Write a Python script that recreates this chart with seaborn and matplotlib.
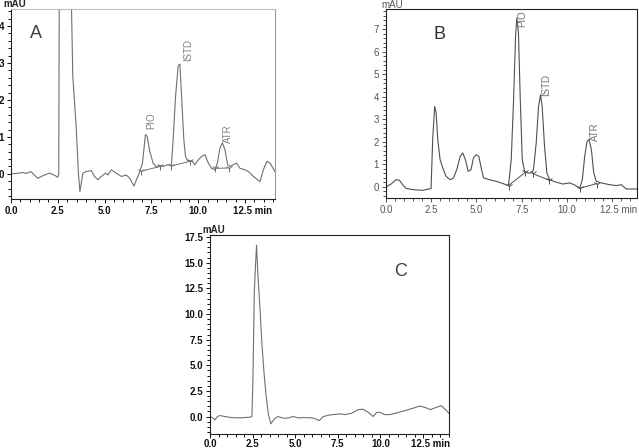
import numpy as np
import pandas as pd
import matplotlib
matplotlib.use("Agg")
import matplotlib.pyplot as plt
import matplotlib.transforms as mtransforms
from matplotlib.ticker import MultipleLocator
import seaborn as sns

# Chromatogram A (time in min, signal in mAU)
a_time = [0.0, 0.45, 0.6, 0.8, 1.07, 1.25, 1.43, 1.7, 2.05, 2.3, 2.5, 2.55, 2.6, 2.85, 3.1,
          3.3, 3.48, 3.6, 3.68, 3.84, 4.0, 4.29, 4.46, 4.64, 4.82, 5.05, 5.18, 5.36, 5.62,
          5.9, 6.16, 6.34, 6.57, 6.73, 6.88, 7.02, 7.18, 7.27, 7.41, 7.59, 7.77, 7.95, 8.12,
          8.35, 8.57, 8.66, 8.79, 8.93, 9.02, 9.11, 9.23, 9.32, 9.46, 9.64, 9.82, 10.0, 10.18,
          10.36, 10.54, 10.71, 10.89, 11.02, 11.16, 11.29, 11.43, 11.57, 11.7, 11.88, 12.05,
          12.23, 12.5, 12.68, 12.95, 13.3, 13.48, 13.66, 13.84, 14.1]
a_signal = [0.0, 0.02, 0.04, 0.01, 0.06, -0.03, -0.12, -0.05, 0.02, -0.03, -0.09, 0.0, 9.0, 14.0, 8.0,
            2.65, 1.28, 0.02, -0.48, 0.02, 0.06, 0.09, -0.07, -0.16, -0.07, 0.02, -0.03, 0.11, 0.02,
            -0.07, -0.03, -0.12, -0.33, -0.12, 0.06, 0.29, 1.06, 1.02, 0.61, 0.29, 0.18, 0.23, 0.2,
            0.24, 0.25, 0.93, 2.1, 2.93, 2.97, 2.1, 0.93, 0.47, 0.34, 0.36, 0.25, 0.38, 0.47,
            0.52, 0.29, 0.15, 0.11, 0.29, 0.7, 0.84, 0.65, 0.25, 0.2, 0.25, 0.29,
            0.15, 0.11, 0.06, -0.07, -0.21, 0.11, 0.34, 0.29, 0.06]
a_base_time = [6.95, 7.95, 8.55, 9.55, 10.9, 11.65]
a_base_signal = [0.07, 0.2, 0.21, 0.34, 0.15, 0.16]
a_base_peak = ["PIO", "PIO", "ISTD", "ISTD", "ATR", "ATR"]
a_peak_names = ["PIO", "ISTD", "ATR"]
a_peak_time = [7.5, 9.45, 11.6]
a_peak_label_y = [1.45, 3.35, 1.1]

# Chromatogram B
b_time = [0.0, 0.28, 0.55, 0.74, 0.92, 1.1, 1.48, 2.03, 2.49, 2.58, 2.69, 2.77, 2.86, 2.99,
          3.14, 3.32, 3.54, 3.73, 3.91, 4.1, 4.24, 4.39, 4.54, 4.7, 4.83, 4.98, 5.13, 5.26,
          5.39, 5.72, 6.09, 6.46, 6.77, 6.92, 7.05, 7.16, 7.23, 7.32, 7.42, 7.53, 7.66, 7.84,
          8.03, 8.15, 8.3, 8.43, 8.54, 8.63, 8.76, 8.89, 9.04, 9.41, 9.78, 10.15, 10.42, 10.7,
          10.85, 10.98, 11.11, 11.22, 11.35, 11.48, 11.62, 11.9, 12.36, 12.73, 13.0, 13.28, 13.87]
b_signal = [0.0, 0.13, 0.32, 0.3, 0.1, -0.06, -0.12, -0.15, -0.07, 2.1, 3.57, 3.28, 2.1, 1.21,
            0.84, 0.47, 0.32, 0.4, 0.77, 1.36, 1.51, 1.21, 0.69, 0.77, 1.29, 1.43, 1.36, 0.84,
            0.4, 0.32, 0.25, 0.15, 0.06, 1.21, 3.87, 6.68, 7.49, 6.82, 3.87, 1.21, 0.69, 0.62,
            0.62, 0.77, 1.95, 3.57, 4.09, 3.57, 1.8, 0.62, 0.32, 0.21, 0.13, 0.18, 0.09, -0.07,
            0.32, 1.36, 2.02, 2.1, 1.65, 0.62, 0.25, 0.18, 0.1, 0.06, 0.1, -0.09, -0.09]
b_base_time = [6.77, 7.7, 8.1, 9.0, 10.72, 11.65]
b_base_signal = [0.06, 0.65, 0.6, 0.3, -0.06, 0.15]
b_base_peak = ["PIO", "PIO", "ISTD", "ISTD", "ATR", "ATR"]
b_peak_names = ["PIO", "ISTD", "ATR"]
b_peak_time = [7.55, 8.85, 11.55]
b_peak_label_y = [7.45, 4.5, 2.45]

# Chromatogram C (blank)
c_time = [0.0, 0.16, 0.29, 0.43, 0.59, 0.88, 1.27, 1.76, 2.34, 2.46, 2.52, 2.6, 2.68, 2.73,
          2.81, 2.93, 3.05, 3.16, 3.28, 3.42, 3.57, 3.77, 4.0, 4.3, 4.59, 4.88, 5.18, 5.47,
          6.05, 6.41, 6.64, 7.03, 7.62, 7.91, 8.3, 8.69, 8.98, 9.28, 9.57, 9.77, 9.96, 10.25,
          10.55, 10.94, 11.43, 11.91, 12.3, 12.6, 12.93, 13.28, 13.57, 13.83, 14.02]
c_signal = [0.0, -0.13, -0.32, 0.0, 0.1, 0.0, -0.1, -0.13, -0.06, 0.0, 3.8, 12.2, 15.1, 16.7,
            13.8, 10.6, 7.0, 4.45, 2.2, 0.26, -0.71, -0.23, 0.0, -0.16, -0.13, 0.0, -0.13, -0.1,
            -0.13, -0.39, 0.0, 0.16, 0.26, 0.19, 0.32, 0.68, 0.71, 0.42, 0.0, 0.39, 0.42, 0.19,
            0.19, 0.35, 0.58, 0.81, 1.03, 0.9, 0.68, 0.9, 1.06, 0.65, 0.32]

sns.set_theme(style="white")
plt.rcParams["font.family"] = ["Liberation Sans", "DejaVu Sans"]

fig = plt.figure(figsize=(6.39, 4.48), dpi=100)
ax_a = fig.add_axes([11 / 639, 1 - 199 / 448, 264 / 639, 190 / 448])
ax_b = fig.add_axes([386 / 639, 1 - 198 / 448, 251 / 639, 189 / 448])
ax_c = fig.add_axes([210 / 639, 1 - 434 / 448, 239 / 639, 199 / 448])


def style_axes(ax, xlim, ylim, ymajor, yminor, yfmt, color, weight, xpad=2):
    ax.set_xlim(*xlim)
    ax.set_ylim(*ylim)
    ax.xaxis.set_major_locator(MultipleLocator(2.5))
    ax.xaxis.set_minor_locator(MultipleLocator(0.5))
    ax.yaxis.set_major_locator(MultipleLocator(ymajor))
    ax.yaxis.set_minor_locator(MultipleLocator(yminor))
    ax.tick_params(which="both", direction="out", left=True, bottom=True,
                   colors=color, labelsize=7, width=0.7)
    ax.tick_params(which="major", length=3, pad=2)
    ax.tick_params(which="minor", length=2)
    ax.tick_params(axis="x", which="major", pad=xpad)
    ticks = [t for t in np.arange(0, xlim[1] + 0.01, 2.5)]
    ax.set_xticks(ticks)
    labels = [f"{t:.1f}" for t in ticks]
    labels[-1] = labels[-1] + " min"
    ax.set_xticklabels(labels)
    yt = [t for t in ax.get_yticks() if ylim[0] <= t <= ylim[1]]
    ax.set_yticks(yt)
    ax.set_yticklabels([yfmt.format(t) for t in yt])
    for lab in ax.get_xticklabels() + ax.get_yticklabels():
        lab.set_fontweight(weight)
        lab.set_color(color)
    # shift "12.5 min" so the number sits under its tick
    last = ax.get_xticklabels()[-1]
    last.set_ha("left")
    last.set_transform(last.get_transform() + mtransforms.ScaledTranslation(-9 / 72, 0, fig.dpi_scale_trans))
    for sp in ax.spines.values():
        sp.set_linewidth(0.8)
        sp.set_color("#222222")
    ax.set_xlabel("")
    ax.set_ylabel("")


# Panel A
df_a = pd.DataFrame({"time": a_time, "signal": a_signal})
sns.lineplot(data=df_a, x="time", y="signal", ax=ax_a, color="#707070", lw=0.8, estimator=None)
df_ab = pd.DataFrame({"time": a_base_time, "signal": a_base_signal, "peak": a_base_peak})
sns.lineplot(data=df_ab, x="time", y="signal", units="peak", estimator=None, ax=ax_a,
             color="#707070", lw=0.7)
ax_a.plot(a_base_time, a_base_signal, ls="none", marker="1", ms=6, color="#707070", mew=0.7)
for name, t, y in zip(a_peak_names, a_peak_time, a_peak_label_y):
    ax_a.text(t, y, name, rotation=90, ha="center", va="center", fontsize=7, color="#808080")
ax_a.text(1.35, 3.8, "A", fontsize=13, color="#404040", ha="center", va="center")
style_axes(ax_a, (0, 14.1), (-0.68, 4.46), 1, 0.2, "{:.0f}", "#111111", "bold")
ax_a.spines["top"].set_color("#bbbbbb")
ax_a.spines["right"].set_color("#999999")
fig.text(15 / 639, 1 - 4 / 448, "mAU", ha="center", va="center", fontsize=7, fontweight="bold")

# Panel B
df_b = pd.DataFrame({"time": b_time, "signal": b_signal})
sns.lineplot(data=df_b, x="time", y="signal", ax=ax_b, color="#505050", lw=0.8, estimator=None)
df_bb = pd.DataFrame({"time": b_base_time, "signal": b_base_signal, "peak": b_base_peak})
sns.lineplot(data=df_bb, x="time", y="signal", units="peak", estimator=None, ax=ax_b,
             color="#505050", lw=0.7)
ax_b.plot(b_base_time, b_base_signal, ls="none", marker="1", ms=6, color="#505050", mew=0.7)
for name, t, y in zip(b_peak_names, b_peak_time, b_peak_label_y):
    ax_b.text(t, y, name, rotation=90, ha="center", va="center", fontsize=7, color="#707070",
              clip_on=True)
ax_b.text(2.95, 6.75, "B", fontsize=13, color="#303030", ha="center", va="center")
style_axes(ax_b, (0, 13.87), (-0.49, 7.89), 1, 0.2, "{:.0f}", "#555555", "normal")
fig.text(392 / 639, 1 - 5 / 448, "mAU", ha="center", va="center", fontsize=7, color="#555555")

# Panel C
df_c = pd.DataFrame({"time": c_time, "signal": c_signal})
sns.lineplot(data=df_c, x="time", y="signal", ax=ax_c, color="#707070", lw=0.8, estimator=None)
ax_c.text(11.15, 14.1, "C", fontsize=13, color="#404040", ha="center", va="center")
style_axes(ax_c, (0, 14.02), (-1.7, 17.7), 2.5, 0.5, "{:.1f}", "#111111", "bold", xpad=0.5)
fig.text(214 / 639, 1 - 230 / 448, "mAU", ha="center", va="center", fontsize=7, fontweight="bold")

fig.savefig("out.png", dpi=100)
